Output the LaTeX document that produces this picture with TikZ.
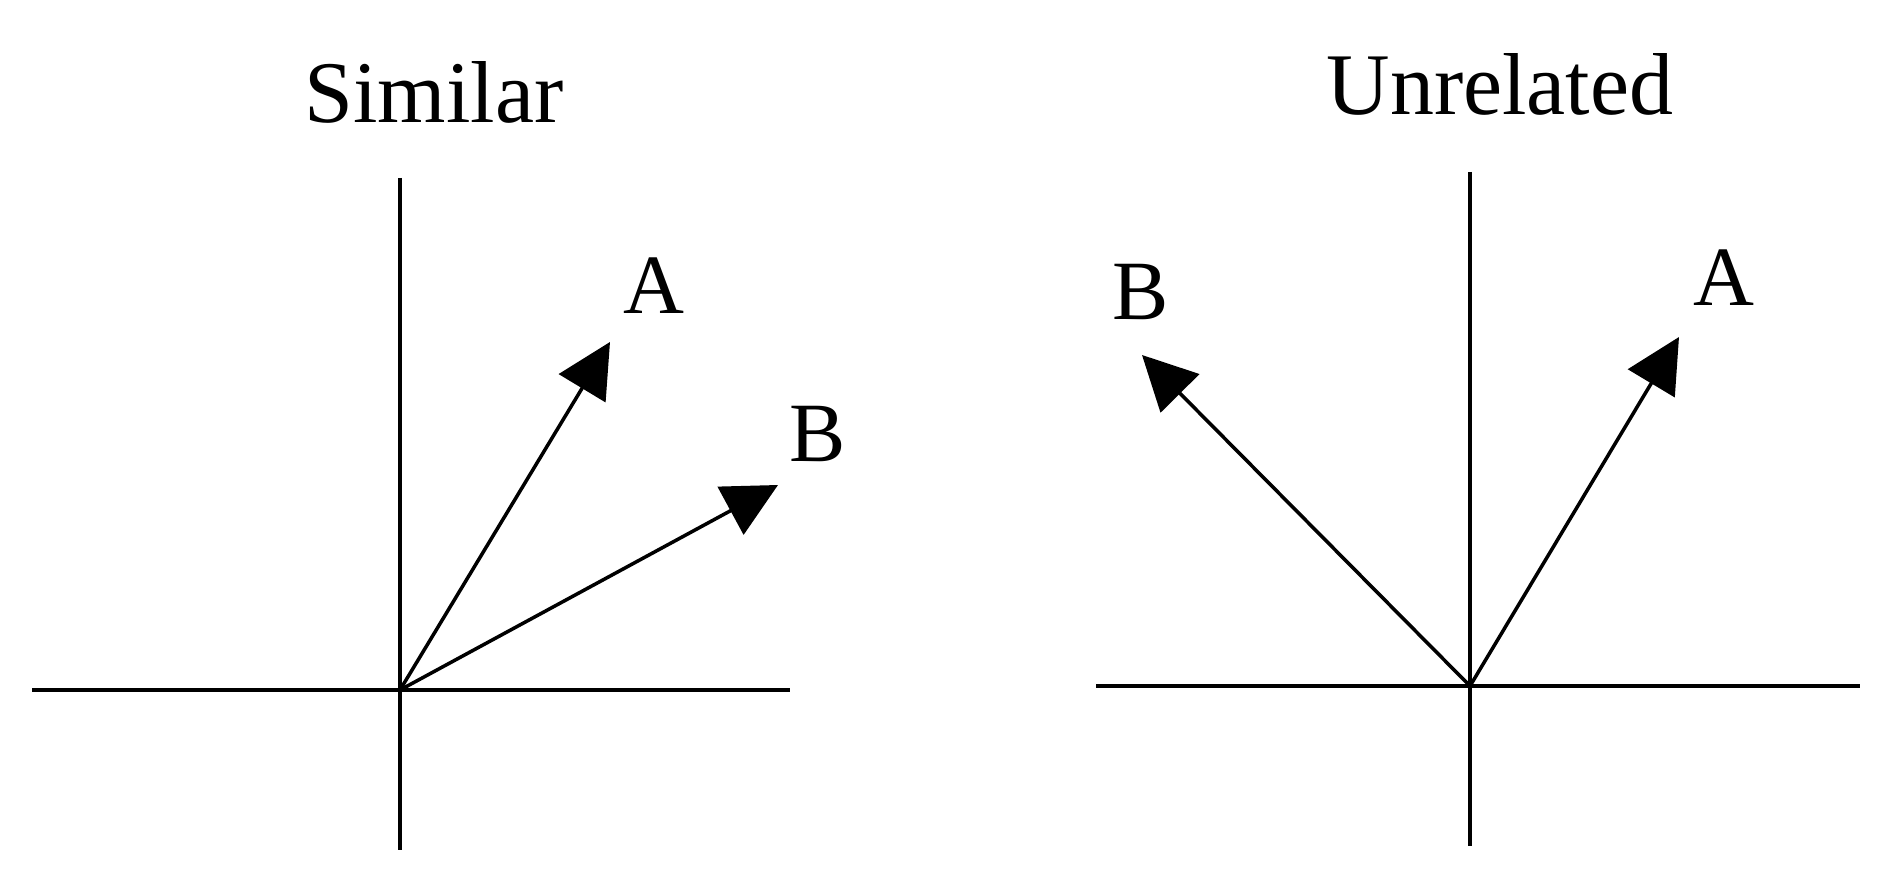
\documentclass[tikz,border=0pt]{standalone}
\usepackage{fontspec}
\setmainfont{Liberation Serif}
\usetikzlibrary{arrows.meta, positioning}

\begin{document}
\begin{tikzpicture}[x=0.01cm, y=-0.01cm,
  axis/.style={line width=1.2pt},
  vec/.style={line width=1pt, -{Triangle[length=5.4mm, width=5.4mm]}},
  title/.style={font=\fontsize{25}{30}\selectfont},
  lbl/.style={font=\fontsize{24}{28}\selectfont}]
\useasboundingbox (0,0) rectangle (1881,873);

% Similar
\node[title] (simtitle) at (434,92) {Similar};
\coordinate (o1) at (400,690);
\coordinate (o1w) at (32,690);
\coordinate (o1e) at (790,690);
\coordinate (o1n) at (400,178);
\coordinate (o1s) at (400,850);
\draw[axis] (o1w) -- (o1e);
\draw[axis] (o1n) -- (o1s);
\coordinate (simA) at (610,342);
\coordinate (simB) at (778,485);
\draw[vec] (o1) -- (simA);
\draw[vec] (o1) -- (simB);
\node[lbl] (simAl) at (654,286) {A};
\node[lbl] (simBl) at (818,434) {B};

% Unrelated
\node[title] (unrtitle) at (1500,84) {Unrelated};
\coordinate (o2) at (1470,686);
\coordinate (o2w) at (1096,686);
\coordinate (o2e) at (1860,686);
\coordinate (o2n) at (1470,172);
\coordinate (o2s) at (1470,846);
\draw[axis] (o2w) -- (o2e);
\draw[axis] (o2n) -- (o2s);
\coordinate (unrA) at (1679,337);
\coordinate (unrB) at (1142,355);
\draw[vec] (o2) -- (unrA);
\draw[vec] (o2) -- (unrB);
\node[lbl] (unrAl) at (1724,278) {A};
\node[lbl] (unrBl) at (1141,292) {B};
\end{tikzpicture}
\end{document}
